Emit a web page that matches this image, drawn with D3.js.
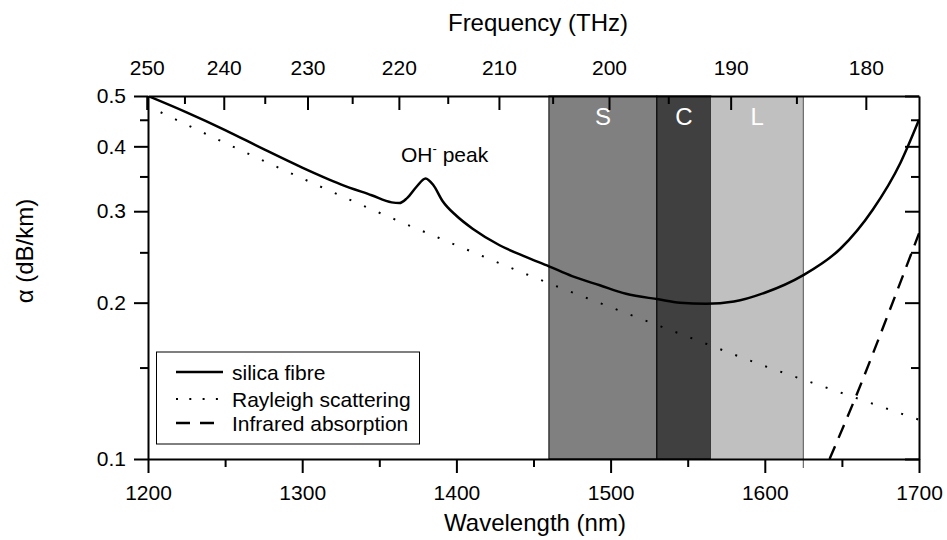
<!DOCTYPE html>
<html>
<head>
<meta charset="utf-8">
<script src="https://cdn.jsdelivr.net/npm/d3@7/dist/d3.min.js"></script>
<style>
  body { margin: 0; background: #fff; }
  svg { display: block; }
  text { font-family: "Liberation Sans", Arial, sans-serif; fill: #000; }
</style>
</head>
<body>
<svg id="chart" width="947" height="540"></svg>
<script>
// ---- data ----
const silicaWl = [1200,1225,1250,1275,1300,1325,1345,1358,1363,1368,1374,1380,1385,1391,1400,1411,1428,1445,1460,1475,1493,1510,1531,1545,1562,1580,1600,1625,1649,1670,1688,1700];
const silica   = [0.500,0.465,0.430,0.395,0.364,0.338,0.322,0.312,0.311,0.318,0.334,0.347,0.337,0.314,0.294,0.277,0.258,0.245,0.235,0.225,0.216,0.208,0.203,0.200,0.199,0.201,0.209,0.226,0.254,0.302,0.372,0.450];

const rayleighWl = [1200,1250,1300,1350,1400,1450,1500,1550,1600,1650,1700];
const rayleigh   = [0.478,0.406,0.347,0.298,0.258,0.224,0.196,0.172,0.151,0.134,0.119];

const irWl = [1642,1660,1680,1700];
const ir   = [0.100,0.134,0.190,0.272];

const bandNames = ["S","C","L"];
const bandStart = [1460,1530,1565];
const bandEnd   = [1530,1565,1625];
const bandFill  = ["#808080","#404040","#c0c0c0"];

const xTicks = [1200,1300,1400,1500,1600,1700];
const xMinor = [1250,1350,1450,1550,1650];
const yTicks = [0.1,0.2,0.3,0.4,0.5];
const yMinor = [0.15,0.25,0.35,0.45];
const freqTicks = [250,240,230,220,210,200,190,180];
const freqMinor = [245,235,225,215,205,195,185];
const C_LIGHT = 299792.458; // nm*THz

// ---- layout ----
const L = 148, R = 919, T = 96, B = 459;
const svg = d3.select("#chart");
const x = d3.scaleLinear().domain([1200,1700]).range([L,R]);
const y = d3.scaleLog().domain([0.1,0.5]).range([B,T]);

svg.append("defs").append("clipPath").attr("id","clip")
  .append("rect").attr("x",L).attr("y",T).attr("width",R-L).attr("height",B-T);

// bands
const bands = svg.append("g");
bandNames.forEach((n,i) => {
  bands.append("rect")
    .attr("x", x(bandStart[i])).attr("y", T)
    .attr("width", x(bandEnd[i]) - x(bandStart[i])).attr("height", B - T)
    .attr("fill", bandFill[i])
    .attr("stroke", i < 2 ? "#000" : "none").attr("stroke-width", 1);
  bands.append("text")
    .attr("x", (x(bandStart[i]) + x(bandEnd[i]))/2).attr("y", 125)
    .attr("text-anchor","middle").attr("font-size", 24)
    .style("fill","#fff").text(n);
});
bands.append("line")
  .attr("x1", x(bandEnd[2])).attr("x2", x(bandEnd[2]))
  .attr("y1", T).attr("y2", B + 9)
  .attr("stroke","#6a6a6a").attr("stroke-width",1.2);

// curves
const curves = svg.append("g").attr("clip-path","url(#clip)");
const mkLine = c => d3.line().x(d => x(d[0])).y(d => y(d[1])).curve(c);
curves.append("path")
  .datum(rayleighWl.map((w,i) => [w, rayleigh[i]]))
  .attr("d", mkLine(d3.curveMonotoneX))
  .attr("fill","none").attr("stroke","#000").attr("stroke-width",2)
  .attr("stroke-dasharray","0 14 2 0");
curves.append("path")
  .datum(irWl.map((w,i) => [w, ir[i]]))
  .attr("d", mkLine(d3.curveMonotoneX))
  .attr("fill","none").attr("stroke","#000").attr("stroke-width",2.4)
  .attr("stroke-dasharray","14 9");
curves.append("path")
  .datum(silicaWl.map((w,i) => [w, silica[i]]))
  .attr("d", mkLine(d3.curveMonotoneX))
  .attr("fill","none").attr("stroke","#000").attr("stroke-width",2.5);

// axes
function style(g) {
  g.attr("font-family",'"Liberation Sans", Arial, sans-serif');
  g.selectAll("path.domain").attr("stroke","#000").attr("stroke-width",2);
  g.selectAll(".tick line").attr("stroke","#000").attr("stroke-width",2);
  g.selectAll("text").attr("font-size",21);
}
// bottom
svg.append("g").attr("transform",`translate(0,${B})`)
  .call(d3.axisBottom(x).tickValues(xTicks).tickSize(14).tickSizeOuter(0).tickPadding(12).tickFormat(d3.format("d")))
  .call(style);
svg.append("g").attr("transform",`translate(0,${B})`)
  .call(d3.axisBottom(x).tickValues(xMinor).tickSize(8).tickSizeOuter(0).tickFormat(""))
  .call(g => g.select(".domain").remove()).call(style);
// left
svg.append("g").attr("transform",`translate(${L},0)`)
  .call(d3.axisLeft(y).tickValues(yTicks).tickSize(14).tickSizeOuter(0).tickPadding(8).tickFormat(d3.format(".1f")))
  .call(style);
svg.append("g").attr("transform",`translate(${L},0)`)
  .call(d3.axisLeft(y).tickValues(yMinor).tickSize(8).tickSizeOuter(0).tickFormat(""))
  .call(g => g.select(".domain").remove()).call(style);
// right
svg.append("g").attr("transform",`translate(${R},0)`)
  .call(d3.axisRight(y).tickValues(yTicks).tickSize(-14).tickSizeOuter(0).tickFormat(""))
  .call(style);
svg.append("g").attr("transform",`translate(${R},0)`)
  .call(d3.axisRight(y).tickValues(yMinor).tickSize(-8).tickSizeOuter(0).tickFormat(""))
  .call(g => g.select(".domain").remove()).call(style);
// top (frequency)
svg.append("g").attr("transform",`translate(0,${T})`)
  .call(d3.axisTop(x).tickValues(freqTicks.map(f => C_LIGHT/f)).tickSize(-14).tickSizeOuter(0).tickPadding(21)
        .tickFormat((d,i) => String(freqTicks[i])))
  .call(style);
svg.append("g").attr("transform",`translate(0,${T})`)
  .call(d3.axisTop(x).tickValues(freqMinor.map(f => C_LIGHT/f)).tickSize(-8).tickSizeOuter(0).tickFormat(""))
  .call(g => g.select(".domain").remove()).call(style);

// titles
svg.append("text").attr("x",535).attr("y",531).attr("text-anchor","middle").attr("font-size",24).text("Wavelength (nm)");
svg.append("text").attr("x",538).attr("y",31).attr("text-anchor","middle").attr("font-size",24).text("Frequency (THz)");
svg.append("text").attr("transform","translate(33,251) rotate(-90)").attr("text-anchor","middle").attr("font-size",24).text("α (dB/km)");

// OH peak label
const oh = svg.append("text").attr("x",401).attr("y",162).attr("font-size",21);
oh.append("tspan").text("OH");
oh.append("tspan").attr("dy",-9).attr("font-size",13).text("-");
oh.append("tspan").attr("dy",9).text(" peak");

// legend
const lg = svg.append("g");
lg.append("rect").attr("x",156.5).attr("y",352).attr("width",263).attr("height",92)
  .attr("fill","#fff").attr("stroke","#000").attr("stroke-width",1);
const legItems = ["silica fibre","Rayleigh scattering","Infrared absorption"];
const legDash = [null,"2 11.3","14 10"];
const legY = [372,399,423];
legItems.forEach((t,i) => {
  lg.append("line").attr("x1",176).attr("x2",223).attr("y1",legY[i]).attr("y2",legY[i])
    .attr("stroke","#000").attr("stroke-width",i===1?2:2.5)
    .attr("stroke-dasharray", legDash[i]);
  lg.append("text").attr("x",232).attr("y",legY[i]+8).attr("font-size",21).text(t);
});
</script>
</body>
</html>
